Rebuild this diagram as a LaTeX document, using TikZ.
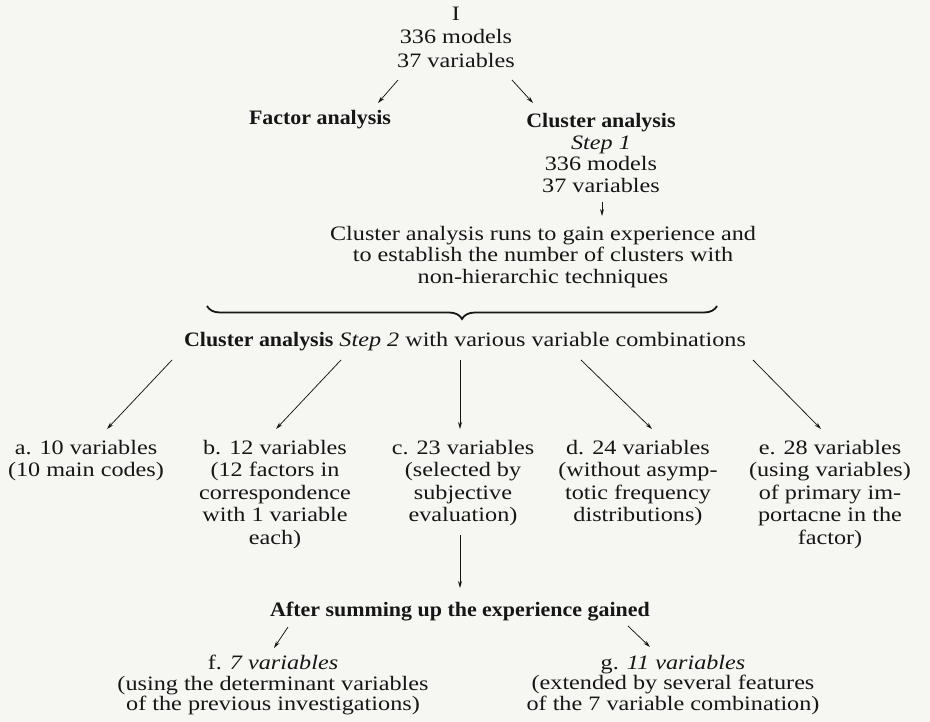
\documentclass[tikz,border=0pt]{standalone}
\usepackage{fontspec}
\setmainfont{Liberation Serif}[FakeStretch=1.18]
\newfontfamily\headfont{Liberation Serif}[FakeStretch=1.07]
\usetikzlibrary{arrows.meta,decorations.pathreplacing}
\definecolor{paper}{RGB}{246,246,243}
\definecolor{ink}{RGB}{22,22,22}
\begin{document}
\begin{tikzpicture}[x=1pt,y=-1pt,
  txt/.style={font=\fontsize{20.5}{22.5}\selectfont, align=center, inner sep=0pt, text=ink},
  hd/.style={txt, font=\fontsize{20.5}{22.5}\selectfont\headfont\bfseries},
  arr/.style={draw=ink, line width=0.75pt, -{Stealth[length=7pt,width=4pt]}}]
\fill[paper] (0,0) rectangle (930,722);
\useasboundingbox (0,0) rectangle (930,722);

% top of the scheme
\node[txt, font=\fontsize{20.5}{23.5}\selectfont] (top) at (456,37) {I\\336 models\\37 variables};
\node[hd] (factor) at (320,120) {Factor analysis};
\node[txt, font=\fontsize{20.5}{21.5}\selectfont] (cluster) at (601,153) {{\headfont\bfseries Cluster analysis}\\\textit{Step 1}\\336 models\\37 variables};
\node[txt, font=\fontsize{20.5}{21.5}\selectfont] (runs) at (543,257) {Cluster analysis runs to gain experience and\\to establish the number of clusters with\\non-hierarchic techniques};
\node[txt] (step2) at (465,342) {{\headfont\bfseries Cluster analysis} \textit{Step 2} with various variable combinations};

% variable combinations
\node[txt, anchor=north] (va) at (86,440) {a. 10 variables\\(10 main codes)};
\node[txt, anchor=north] (vb) at (275,440) {b. 12 variables\\(12 factors in\\correspondence\\with 1 variable\\each)};
\node[txt, anchor=north] (vc) at (463,440) {c. 23 variables\\(selected by\\subjective\\evaluation)};
\node[txt, anchor=north] (vd) at (638,440) {d. 24 variables\\(without asymp-\\totic frequency\\distributions)};
\node[txt, anchor=north] (ve) at (830,440) {e. 28 variables\\(using variables)\\of primary im-\\portacne in the\\factor)};

\node[hd] (after) at (460,612) {After summing up the experience gained};
\node[txt, font=\fontsize{20.5}{20.2}\selectfont] (vf) at (273,685) {f. \textit{7 variables}\\(using the determinant variables\\of the previous investigations)};
\node[txt, font=\fontsize{20.5}{20.2}\selectfont] (vg) at (673,685) {g. \textit{11 variables}\\(extended by several features\\of the 7 variable combination)};

% free ends of the short connectors
\coordinate (t1) at (398,80);  \coordinate (f1) at (378,103);
\coordinate (t2) at (512,80);  \coordinate (c2) at (533,103);
\coordinate (c3) at (602,202); \coordinate (r3) at (602,216);
\coordinate (s1) at (172,360); \coordinate (a1) at (107,429);
\coordinate (s2) at (341,360); \coordinate (b2) at (276,429);
\coordinate (s3) at (460,360); \coordinate (c4) at (460,429);
\coordinate (s4) at (581,360); \coordinate (d4) at (652,429);
\coordinate (s5) at (753,360); \coordinate (e5) at (821,429);
\coordinate (cc) at (460,535); \coordinate (aa) at (460,588);
\coordinate (g1) at (288,627); \coordinate (ff) at (274,648);
\coordinate (g2) at (628,626); \coordinate (gg) at (650,647);

\draw[arr] (t1) -- (f1);
\draw[arr] (t2) -- (c2);
\draw[arr] (c3) -- (r3);
\draw[arr] (s1) -- (a1);
\draw[arr] (s2) -- (b2);
\draw[arr] (s3) -- (c4);
\draw[arr] (s4) -- (d4);
\draw[arr] (s5) -- (e5);
\draw[arr] (cc) -- (aa);
\draw[arr] (g1) -- (ff);
\draw[arr] (g2) -- (gg);

% brace gathering the preliminary runs
\coordinate (bl) at (207,306);
\coordinate (br) at (717,306);
\draw[ink, line width=1.8pt, decorate, decoration={brace, mirror, amplitude=13pt}] (bl) -- (br);
\end{tikzpicture}
\end{document}
